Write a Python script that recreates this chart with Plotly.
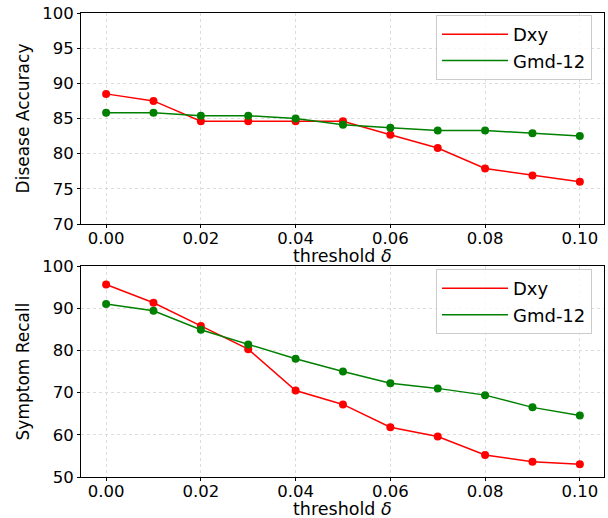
import plotly.graph_objects as go
from plotly.subplots import make_subplots

thresholds = [0.00, 0.01, 0.02, 0.03, 0.04, 0.05, 0.06, 0.07, 0.08, 0.09, 0.10]
acc_dxy = [88.5, 87.5, 84.6, 84.6, 84.6, 84.6, 82.7, 80.8, 77.9, 76.9, 76.0]
acc_gmd = [85.8, 85.8, 85.4, 85.4, 85.0, 84.1, 83.7, 83.3, 83.3, 82.9, 82.5]
rec_dxy = [95.6, 91.3, 85.8, 80.3, 70.5, 67.2, 61.8, 59.6, 55.2, 53.6, 53.0]
rec_gmd = [91.0, 89.4, 84.9, 81.4, 78.0, 75.0, 72.2, 71.0, 69.4, 66.5, 64.6]
xticks = [0.00, 0.02, 0.04, 0.06, 0.08, 0.10]
xticklabels = ["0.00", "0.02", "0.04", "0.06", "0.08", "0.10"]

RED = "#ff0000"
GREEN = "#008000"
FONT = "DejaVu Sans"

fig = make_subplots(rows=2, cols=1, vertical_spacing=42/464)

for row, (d, g, leg) in enumerate([(acc_dxy, acc_gmd, "legend"), (rec_dxy, rec_gmd, "legend2")], start=1):
    for vals, name, col in [(d, "Dxy", RED), (g, "Gmd-12", GREEN)]:
        fig.add_trace(go.Scatter(x=thresholds, y=vals, mode="lines+markers",
                                 line=dict(color=col, width=1.5),
                                 marker=dict(color=col, size=8),
                                 showlegend=False, name=name), row=row, col=1)
        fig.add_trace(go.Scatter(x=[None], y=[None], mode="lines",
                                 line=dict(color=col, width=1.5),
                                 name=name, legend=leg, showlegend=True), row=row, col=1)

axis_common = dict(showline=True, linecolor="black", linewidth=1, mirror=True,
                   showgrid=True, gridcolor="#dcdcdc", griddash="3px,3px", gridwidth=1,
                   ticks="outside", ticklen=3, tickcolor="black", automargin=False,
                   ticklabeloverflow="allow",
                   tickfont=dict(family=FONT, size=16.5, color="black"), zeroline=False)

for r in (1, 2):
    fig.update_xaxes(range=[-0.0053, 0.1051], tickvals=xticks, ticktext=xticklabels,
                     ticklabelstandoff=-4, row=r, col=1, **axis_common)

fig.update_yaxes(range=[70, 100], dtick=5, row=1, col=1,
                 title=dict(text="Disease Accuracy", font=dict(family=FONT, size=17, color="black"), standoff=8),
                 **axis_common)
fig.update_yaxes(range=[50, 100], dtick=10, row=2, col=1,
                 title=dict(text="Symptom Recall", font=dict(family=FONT, size=17, color="black"), standoff=8),
                 **axis_common)

# x-axis titles as annotations (precise placement)
for ypos in (0.4760, -0.0690):
    fig.add_annotation(text="threshold <i>δ</i>", xref="paper", yref="paper",
                       x=0.5, y=ypos, xanchor="center", yanchor="middle", showarrow=False,
                       font=dict(family=FONT, size=17.5, color="black"))

legend_style = dict(font=dict(family=FONT, size=18, color="black"), bgcolor="rgba(255,255,255,0.8)",
                    bordercolor="#cccccc", borderwidth=1, xanchor="right", yanchor="top",
                    itemwidth=66)
fig.update_layout(
    width=608, height=518,
    margin=dict(l=81, r=4, t=13, b=41),
    plot_bgcolor="white", paper_bgcolor="white",
    legend=dict(x=0.977, y=0.9957, **legend_style),
    legend2=dict(x=0.977, y=0.448, **legend_style),
)

fig.write_html("out.html", config={"displayModeBar": False},
               post_script="document.body.style.margin='0';")
